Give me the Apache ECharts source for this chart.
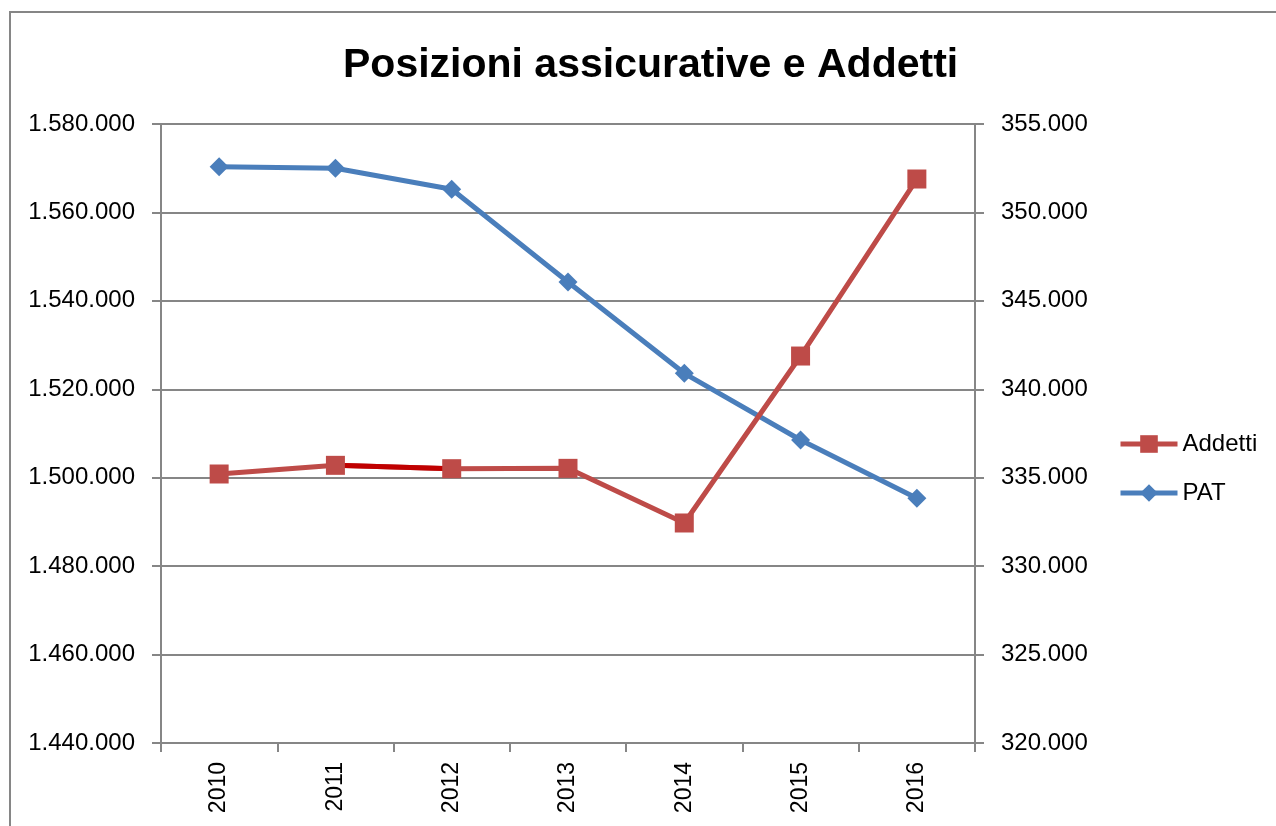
<!DOCTYPE html>
<html>
<head>
<meta charset="utf-8">
<script src="https://cdn.jsdelivr.net/npm/echarts@6/dist/echarts.min.js"></script>
<style>html,body{margin:0;padding:0;background:#fff;}#c{width:1276px;height:826px;}</style>
</head>
<body>
<div id="c"></div>
<script>
var categories = ['2010', '2011', '2012', '2013', '2014', '2015', '2016'];
var pat = [1570340, 1569980, 1565230, 1544270, 1523610, 1508530, 1495340];
var addetti = [335210, 335700, 335510, 335530, 332440, 341880, 351890];
var leftTicks = { min: 1440000, max: 1580000, interval: 20000 };
var rightTicks = { min: 320000, max: 355000, interval: 5000 };

function fmt(v) { return String(v).replace(/\B(?=(\d{3})+(?!\d))/g, '.'); }

// dark segment 2011-2012 of Addetti line (as in the reference)
var addettiDark = addetti.map(function (v, i) { return (i === 1 || i === 2) ? v : null; });

var FONT = "'Liberation Sans', Arial, sans-serif";
var GRAY = '#868686';
var chart = echarts.init(document.getElementById('c'));
chart.setOption({
  animation: false,
  backgroundColor: '#fff',
  title: {
    text: 'Posizioni assicurative e Addetti',
    left: 338, top: 40,
    textStyle: { fontFamily: FONT, fontWeight: 'bold', fontSize: 41, color: '#000' }
  },
  graphic: [{
    type: 'rect', shape: { x: 10, y: 12, width: 1300, height: 900 },
    style: { fill: 'none', stroke: GRAY, lineWidth: 2 }, silent: true, z: -1
  }],
  legend: {
    orient: 'vertical', left: 1113, top: 427,
    itemWidth: 57, itemHeight: 22, itemGap: 25,
    data: ['Addetti', 'PAT'],
    lineStyle: { width: 5 },
    textStyle: { fontFamily: FONT, fontSize: 24, color: '#000' }
  },
  grid: { left: 161, right: 301, top: 124, bottom: 83 },
  xAxis: {
    type: 'category', data: categories, boundaryGap: true,
    axisLine: { lineStyle: { color: GRAY, width: 2 } },
    axisTick: { show: true, length: 9, lineStyle: { color: GRAY, width: 2 } },
    axisLabel: { rotate: 90, margin: 19, fontFamily: FONT, fontSize: 23, color: '#000' }
  },
  yAxis: [{
    type: 'value', min: leftTicks.min, max: leftTicks.max, interval: leftTicks.interval,
    axisLine: { show: true, lineStyle: { color: GRAY, width: 2 } },
    axisTick: { show: true, length: 9, lineStyle: { color: GRAY, width: 2 } },
    splitLine: { show: true, lineStyle: { color: GRAY, width: 2 } },
    axisLabel: { margin: 26, fontFamily: FONT, fontSize: 24, color: '#000', formatter: fmt }
  }, {
    type: 'value', position: 'right', min: rightTicks.min, max: rightTicks.max, interval: rightTicks.interval,
    axisLine: { show: true, lineStyle: { color: GRAY, width: 2 } },
    axisTick: { show: true, length: 9, lineStyle: { color: GRAY, width: 2 } },
    splitLine: { show: false },
    axisLabel: { margin: 26, fontFamily: FONT, fontSize: 24, color: '#000', formatter: fmt }
  }],
  series: [{
    name: 'PAT', type: 'line', yAxisIndex: 0, data: pat,
    symbol: 'diamond', symbolSize: 19, showSymbol: true,
    lineStyle: { color: '#4A7EBB', width: 5 },
    itemStyle: { color: '#4A7EBB' }, z: 2
  }, {
    name: 'Addetti', type: 'line', yAxisIndex: 1, data: addetti,
    symbol: 'rect', symbolSize: 19, showSymbol: true,
    lineStyle: { color: '#BE4B48', width: 5 },
    itemStyle: { color: '#BE4B48' }, z: 3
  }, {
    name: 'AddettiSeg', type: 'line', yAxisIndex: 1, data: addettiDark,
    symbol: 'none', lineStyle: { color: '#C00000', width: 5 }, z: 3
  }]
});
</script>
</body>
</html>
